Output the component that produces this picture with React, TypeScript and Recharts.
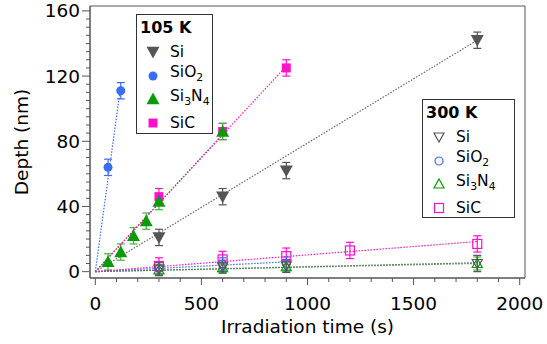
import React from "react";
import { ComposedChart, Scatter, ErrorBar, XAxis, YAxis, ReferenceArea } from "recharts";

// colours
const GRAY = "#555555";
const BLUE = "#3a6cf4";
const GREEN = "#0a9a0a";
const GREEN_BAR = "#3cb83c";
const MAGENTA = "#ff10cc";
const FRAME = "#555555";
const FONT = "'DejaVu Sans', sans-serif";

// axis ticks
const X_TICKS = [0, 100, 200, 300, 400, 500, 600, 700, 800, 900, 1000, 1100, 1200, 1300, 1400, 1500, 1600, 1700, 1800, 1900, 2000];
const Y_TICKS = [0, 5, 10, 15, 20, 25, 30, 35, 40, 45, 50, 55, 60, 65, 70, 75, 80, 85, 90, 95, 100, 105, 110, 115, 120, 125, 130, 135, 140, 145, 150, 155, 160];
const X_DOMAIN = [-25, 2025];
const Y_DOMAIN = [-3.9, 163];

// 105 K (filled markers)
const si105 = [
  { x: 300, y: 21, err: 5 },
  { x: 600, y: 46, err: 5 },
  { x: 900, y: 62, err: 5 },
  { x: 1800, y: 142, err: 5 },
];
const sio2_105 = [
  { x: 60, y: 64, err: 5 },
  { x: 120, y: 111, err: 5 },
];
const si3n4_105 = [
  { x: 60, y: 6, err: 5 },
  { x: 120, y: 12, err: 5 },
  { x: 180, y: 22, err: 5 },
  { x: 240, y: 31, err: 5 },
  { x: 300, y: 43, err: 5 },
  { x: 600, y: 86, err: 5 },
];
const sic105 = [
  { x: 300, y: 46, err: 5 },
  { x: 600, y: 86, err: 5 },
  { x: 900, y: 125, err: 5 },
];

// 300 K (open markers)
const si300 = [
  { x: 300, y: 1.5, err: 4 },
  { x: 600, y: 3, err: 4 },
  { x: 900, y: 3.5, err: 4 },
  { x: 1800, y: 5, err: 5 },
];
const sio2_300 = [
  { x: 300, y: 2, err: 4 },
  { x: 600, y: 4.5, err: 4 },
  { x: 900, y: 5, err: 4 },
];
const si3n4_300 = [
  { x: 300, y: 1, err: 3 },
  { x: 600, y: 2.5, err: 3 },
  { x: 900, y: 3, err: 3 },
  { x: 1800, y: 5, err: 4 },
];
const sic300 = [
  { x: 300, y: 3.5, err: 5 },
  { x: 600, y: 7.5, err: 5 },
  { x: 900, y: 9.5, err: 5 },
  { x: 1200, y: 13, err: 5 },
  { x: 1800, y: 17, err: 5 },
];

// linear fits through the origin
const fitSi105 = [{ x: 0, y: 0 }, { x: 1800, y: 142 }];
const fitSiO2_105 = [{ x: 0, y: 0 }, { x: 120, y: 114 }];
const fitSi3N4_105 = [{ x: 0, y: 0 }, { x: 600, y: 84 }];
const fitSiC105 = [{ x: 0, y: 0 }, { x: 900, y: 126 }];
const fitSi300 = [{ x: 0, y: 0 }, { x: 1800, y: 5 }];
const fitSiO2_300 = [{ x: 0, y: 0 }, { x: 900, y: 6 }];
const fitSi3N4_300 = [{ x: 0, y: 0 }, { x: 1800, y: 5.5 }];
const fitSiC300 = [{ x: 0, y: 0 }, { x: 1800, y: 18.5 }];

type Kind = "down" | "circle" | "up" | "square";

function Marker({ cx, cy, kind, color, filled }: { cx: number; cy: number; kind: Kind; color: string; filled: boolean }) {
  const fill = filled ? color : "none";
  const sw = filled ? 0 : 1.2;
  if (kind === "down") {
    const w = filled ? 6.5 : 5;
    return <polygon points={`${cx - w},${cy - w * 0.8} ${cx + w},${cy - w * 0.8} ${cx},${cy + w}`} fill={fill} stroke={color} strokeWidth={sw} />;
  }
  if (kind === "up") {
    const w = filled ? 6.5 : 5;
    return <polygon points={`${cx - w},${cy + w * 0.8} ${cx + w},${cy + w * 0.8} ${cx},${cy - w}`} fill={fill} stroke={color} strokeWidth={sw} />;
  }
  if (kind === "circle") {
    return <circle cx={cx} cy={cy} r={filled ? 4.5 : 4} fill={fill} stroke={color} strokeWidth={sw} />;
  }
  const s = 4.5;
  return <rect x={cx - s} y={cy - s} width={2 * s} height={2 * s} fill={fill} stroke={color} strokeWidth={sw} />;
}

const shapeOf = (kind: Kind, color: string, filled: boolean) => (p: any) =>
  <Marker cx={p.cx} cy={p.cy} kind={kind} color={color} filled={filled} />;

const noShape = () => <g />;

function XTick({ x, y, payload }: any) {
  const major = payload.value % 500 === 0;
  return (
    <g>
      <line x1={x} x2={x} y1={y} y2={y + (major ? 7 : 4)} stroke={FRAME} strokeWidth={1} />
      {major && (
        <text x={x} y={y + 32} textAnchor="middle" fontSize={18.5} fontFamily={FONT} fill="#000">
          {payload.value}
        </text>
      )}
    </g>
  );
}

function YTick({ x, y, payload }: any) {
  const major = payload.value % 40 === 0;
  return (
    <g>
      <line x1={x - (major ? 8 : 4)} x2={x} y1={y} y2={y} stroke={FRAME} strokeWidth={1} />
      {major && (
        <text x={x - 10} y={y + 6.5} textAnchor="end" fontSize={18.5} fontFamily={FONT} fill="#000">
          {payload.value}
        </text>
      )}
    </g>
  );
}

const materials: { name: React.ReactNode; kind: Kind; color: string }[] = [
  { name: "Si", kind: "down", color: GRAY },
  { name: <>SiO<sub style={{ fontSize: "0.7em" }}>2</sub></>, kind: "circle", color: BLUE },
  { name: <>Si<sub style={{ fontSize: "0.7em" }}>3</sub>N<sub style={{ fontSize: "0.7em" }}>4</sub></>, kind: "up", color: GREEN },
  { name: "SiC", kind: "square", color: MAGENTA },
];

function LegendBox({ title, filled, left, top, width, height }: { title: string; filled: boolean; left: number; top: number; width: number; height: number }) {
  return (
    <div
      style={{
        position: "absolute",
        left,
        top,
        width,
        height,
        boxSizing: "border-box",
        border: "1px solid #333",
        background: "#fff",
        fontFamily: FONT,
        color: "#000",
      }}
    >
      <div style={{ position: "absolute", left: 3, top: 4, fontWeight: "bold", fontSize: 16, lineHeight: "18px" }}>{title}</div>
      {materials.map((m, i) => (
        <div key={i} style={{ position: "absolute", left: 0, top: 27 + i * 23.5, height: 20, display: "flex", alignItems: "center" }}>
          <svg width={32} height={20} style={{ display: "block" }}>
            <Marker cx={16} cy={10} kind={m.kind} color={m.color} filled={filled} />
          </svg>
          <span style={{ fontSize: 15.5, lineHeight: "20px", marginLeft: 1, whiteSpace: "nowrap" }}>{m.name}</span>
        </div>
      ))}
    </div>
  );
}

const dots = "1.5 1.5";

export default function App() {
  return (
    <div style={{ position: "absolute", left: 0, top: 0, width: 547, height: 344, background: "#fff" }}>
      <ComposedChart width={547} height={344} margin={{ top: 6, right: 22, left: 0, bottom: 0 }}>
        <XAxis
          type="number"
          dataKey="x"
          domain={X_DOMAIN}
          ticks={X_TICKS}
          interval={0}
          allowDataOverflow
          height={66}
          tickSize={0}
          tickMargin={0}
          tickLine={false}
          axisLine={{ stroke: FRAME }}
          tick={<XTick />}
          label={{
            content: () => (
              <text x={307.5} y={333} textAnchor="middle" fontSize={18.5} fontFamily={FONT} fill="#000">
                Irradiation time (s)
              </text>
            ),
          }}
        />
        <YAxis
          type="number"
          dataKey="y"
          domain={Y_DOMAIN}
          ticks={Y_TICKS}
          interval={0}
          allowDataOverflow
          width={90}
          tickSize={0}
          tickMargin={0}
          tickLine={false}
          axisLine={{ stroke: FRAME }}
          tick={<YTick />}
          label={{
            content: () => (
              <text x={28} y={142} transform="rotate(-90, 28, 142)" textAnchor="middle" fontSize={18.5} fontFamily={FONT} fill="#000">
                Depth (nm)
              </text>
            ),
          }}
        />
        <ReferenceArea x1={X_DOMAIN[0]} x2={X_DOMAIN[1]} y1={Y_DOMAIN[0]} y2={Y_DOMAIN[1]} fill="none" stroke={FRAME} strokeWidth={1} ifOverflow="visible" />

        {/* fit lines */}
        <Scatter data={fitSi300} dataKey="y" shape={noShape} line={{ stroke: "#777", strokeWidth: 1.2, strokeDasharray: dots }} isAnimationActive={false} />
        <Scatter data={fitSiO2_300} dataKey="y" shape={noShape} line={{ stroke: BLUE, strokeWidth: 1.2, strokeDasharray: dots }} isAnimationActive={false} />
        <Scatter data={fitSi3N4_300} dataKey="y" shape={noShape} line={{ stroke: "#3c7a3c", strokeWidth: 1.2, strokeDasharray: dots }} isAnimationActive={false} />
        <Scatter data={fitSiC300} dataKey="y" shape={noShape} line={{ stroke: MAGENTA, strokeWidth: 1.2, strokeDasharray: dots }} isAnimationActive={false} />
        <Scatter data={fitSi105} dataKey="y" shape={noShape} line={{ stroke: "#666", strokeWidth: 1.2, strokeDasharray: dots }} isAnimationActive={false} />
        <Scatter data={fitSiO2_105} dataKey="y" shape={noShape} line={{ stroke: BLUE, strokeWidth: 1.2, strokeDasharray: dots }} isAnimationActive={false} />
        <Scatter data={fitSi3N4_105} dataKey="y" shape={noShape} line={{ stroke: GREEN, strokeWidth: 1.2, strokeDasharray: dots }} isAnimationActive={false} />
        <Scatter data={fitSiC105} dataKey="y" shape={noShape} line={{ stroke: MAGENTA, strokeWidth: 1.2, strokeDasharray: dots }} isAnimationActive={false} />

        {/* 300 K */}
        <Scatter data={sic300} dataKey="y" shape={shapeOf("square", MAGENTA, false)} isAnimationActive={false}>
          <ErrorBar dataKey="err" direction="y" width={4} stroke={MAGENTA} strokeWidth={1.2} />
        </Scatter>
        <Scatter data={sio2_300} dataKey="y" shape={shapeOf("circle", BLUE, false)} isAnimationActive={false}>
          <ErrorBar dataKey="err" direction="y" width={4} stroke={BLUE} strokeWidth={1.2} />
        </Scatter>
        <Scatter data={si3n4_300} dataKey="y" shape={shapeOf("up", GREEN, false)} isAnimationActive={false}>
          <ErrorBar dataKey="err" direction="y" width={4} stroke={GREEN_BAR} strokeWidth={1.2} />
        </Scatter>
        <Scatter data={si300} dataKey="y" shape={shapeOf("down", GRAY, false)} isAnimationActive={false}>
          <ErrorBar dataKey="err" direction="y" width={4} stroke={GRAY} strokeWidth={1.2} />
        </Scatter>

        {/* 105 K */}
        <Scatter data={si105} dataKey="y" shape={shapeOf("down", GRAY, true)} isAnimationActive={false}>
          <ErrorBar dataKey="err" direction="y" width={4} stroke={GRAY} strokeWidth={1.2} />
        </Scatter>
        <Scatter data={sio2_105} dataKey="y" shape={shapeOf("circle", BLUE, true)} isAnimationActive={false}>
          <ErrorBar dataKey="err" direction="y" width={4} stroke={BLUE} strokeWidth={1.2} />
        </Scatter>
        <Scatter data={sic105} dataKey="y" shape={shapeOf("square", MAGENTA, true)} isAnimationActive={false}>
          <ErrorBar dataKey="err" direction="y" width={4} stroke={MAGENTA} strokeWidth={1.2} />
        </Scatter>
        <Scatter data={si3n4_105} dataKey="y" shape={shapeOf("up", GREEN, true)} isAnimationActive={false}>
          <ErrorBar dataKey="err" direction="y" width={4} stroke={GREEN_BAR} strokeWidth={1.2} />
        </Scatter>
      </ComposedChart>

      <LegendBox title="105 K" filled left={136} top={14} width={77} height={120} />
      <LegendBox title="300 K" filled={false} left={422} top={99} width={93} height={119} />
    </div>
  );
}
